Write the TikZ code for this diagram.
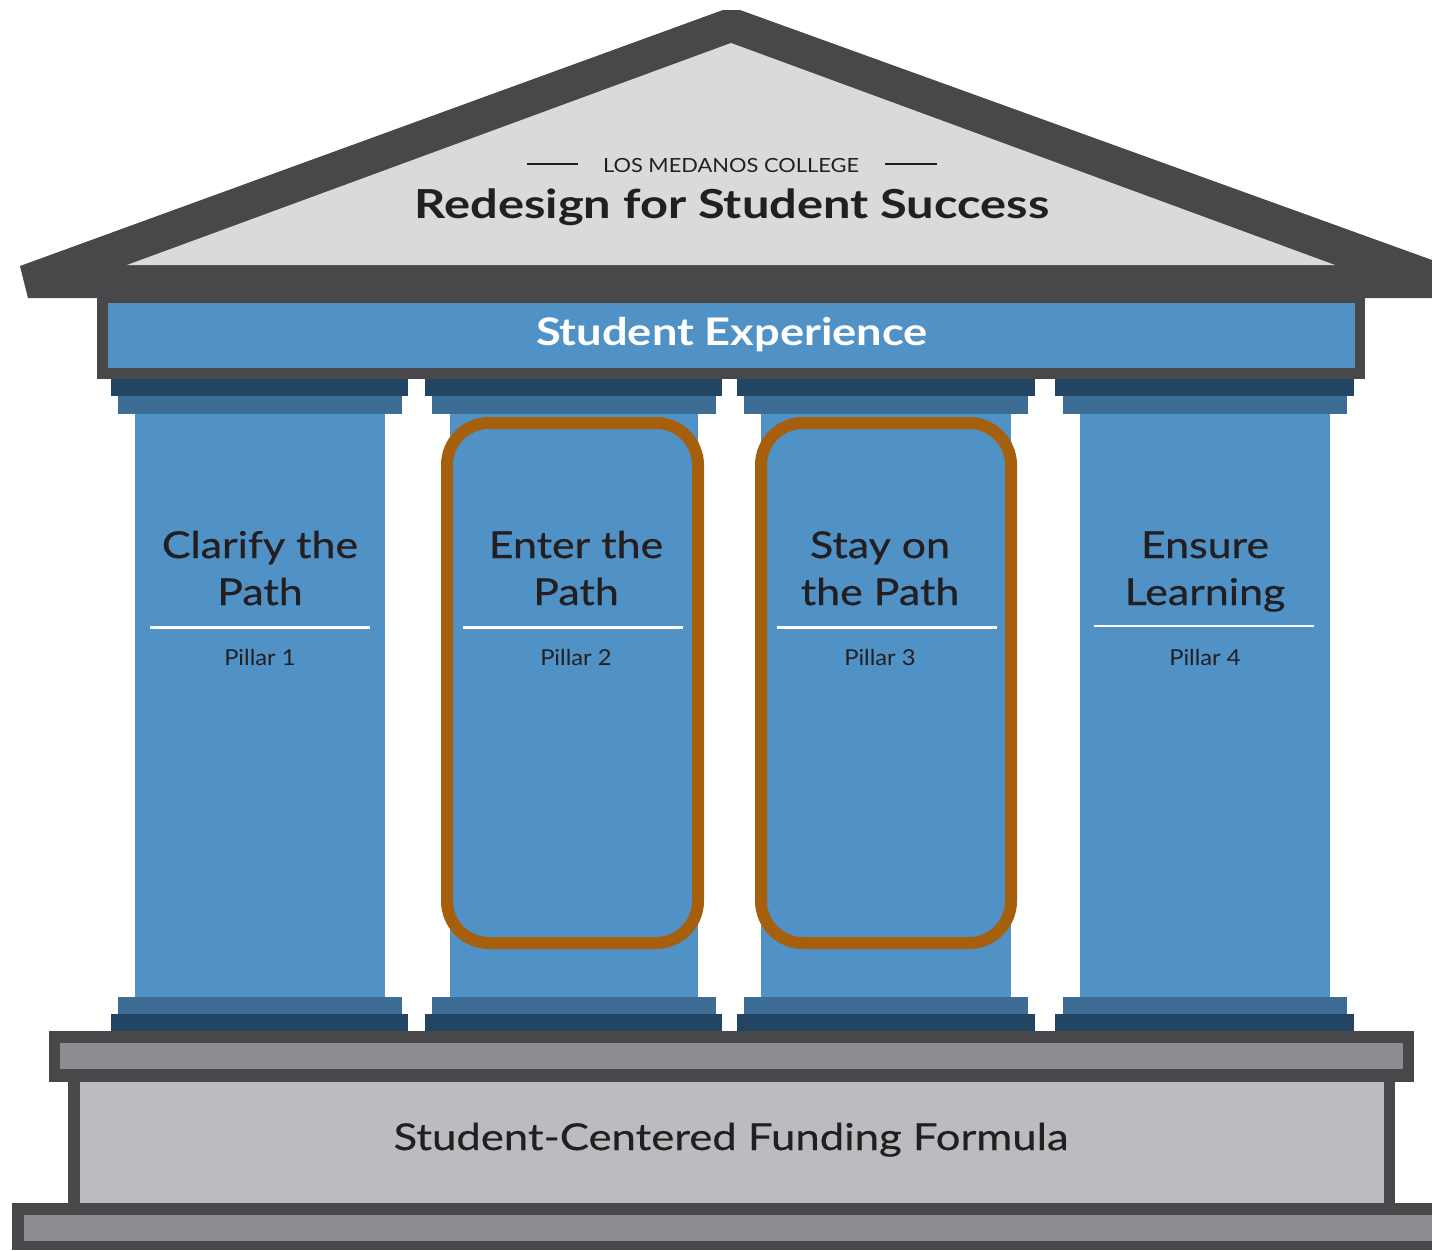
\documentclass[tikz,border=0pt]{standalone}
\usepackage{fontspec}
\setmainfont{Lato}
\newfontfamily\wideA[FakeStretch=1.19]{Lato}
\newfontfamily\wideT[FakeStretch=1.22]{Lato}
\newfontfamily\wideM[FakeStretch=1.16,FakeBold=0.6]{Lato}
\newfontfamily\wideF[FakeStretch=1.18,FakeBold=0.4]{Lato}
\newfontfamily\wideB[FakeStretch=1.12]{Lato}
\newfontfamily\wideC[FakeStretch=1.08]{Lato}
\definecolor{roofdark}{HTML}{48484A}
\definecolor{roofgray}{HTML}{D9DADC}
\definecolor{pblue}{HTML}{5092C6}
\definecolor{navy}{HTML}{214562}
\definecolor{midblue}{HTML}{3D6D94}
\definecolor{ring}{HTML}{A65F0D}
\definecolor{plgray}{HTML}{8C8D91}
\definecolor{ltgray}{HTML}{BBBCC0}
\definecolor{textdark}{HTML}{231F20}
\tikzset{
  lbl/.style={text=textdark, inner sep=0pt, anchor=base},
  title/.style={lbl, font=\wideT\fontsize{40}{48}\selectfont\bfseries},
  pilltitle/.style={lbl, font=\wideM\fontsize{37}{44}\selectfont},
  pillnum/.style={lbl, font=\wideC\fontsize{22}{26}\selectfont},
  whiterule/.style={white, line width=3pt},
  ringbox/.style={draw=ring, line width=12pt, rounded corners=42pt},
}
\begin{document}
\begin{tikzpicture}[x=1pt,y=-1pt]
\useasboundingbox (0,0) rectangle (1432,1250);
% roof
\fill[roofdark] (20,266) -- (723,10) -- (740,10) -- (1432,260) -- (1432,298) -- (28,298) -- cycle;
\fill[roofgray] (127,265) -- (731,43) -- (1335,265) -- cycle;
% entablature
\fill[roofdark] (97,298) rectangle (1365,379);
\fill[pblue] (108,303) rectangle (1355,368);
% pillars
\foreach \a/\b/\c/\d/\e/\f in {111/408/118/402/135/385, 425/722/432/716/450/698, 737/1035/744/1028/761/1011, 1055/1354/1063/1347/1080/1330}{
  \fill[navy] (\a,379) rectangle (\b,396);
  \fill[midblue] (\c,396) rectangle (\d,414);
  \fill[pblue] (\e,414) rectangle (\f,997);
  \fill[midblue] (\c,997) rectangle (\d,1014);
  \fill[navy] (\a,1014) rectangle (\b,1032);
}
% base
\fill[roofdark] (49,1031) rectangle (1414,1082);
\fill[plgray] (60,1043) rectangle (1403,1069);
\fill[roofdark] (68,1069) rectangle (1395,1215);
\fill[ltgray] (80,1082) rectangle (1384,1203);
\fill[roofdark] (12,1203) rectangle (1432,1250);
\fill[plgray] (24,1215) rectangle (1432,1241);
% highlight rings
\draw[ringbox] (447,423) rectangle (698,943);
\draw[ringbox] (761,423) rectangle (1011,943);
% roof texts
\node[lbl, font=\wideB\fontsize{19.5}{23}\selectfont] (college) at (731,172) {LOS MEDANOS COLLEGE};
\coordinate (ll1) at (527,164); \coordinate (ll2) at (578,164);
\coordinate (rl1) at (885,164); \coordinate (rl2) at (937,164);
\draw[textdark, line width=2pt] (ll1) -- (ll2);
\draw[textdark, line width=2pt] (rl1) -- (rl2);
\node[title] (redesign) at (732,218) {Redesign for Student Success};
\node[lbl, text=white, font=\wideA\fontsize{38}{46}\selectfont\bfseries] (exp) at (732,345) {Student Experience};
% pillar texts
\node[pilltitle] (p1a) at (260,558) {Clarify the};
\node[pilltitle] (p1b) at (260,605) {Path};
\node[pilltitle] (p2a) at (576,558) {Enter the};
\node[pilltitle] (p2b) at (576,605) {Path};
\node[pilltitle] (p3a) at (880,558) {Stay on};
\node[pilltitle] (p3b) at (880,605) {the Path};
\node[pilltitle] (p4a) at (1205,558) {Ensure};
\node[pilltitle] (p4b) at (1205,605) {Learning};
\coordinate (r1a) at (150,627); \coordinate (r1b) at (370,627);
\coordinate (r2a) at (463,627); \coordinate (r2b) at (683,627);
\coordinate (r3a) at (777,627); \coordinate (r3b) at (997,627);
\coordinate (r4a) at (1094,626); \coordinate (r4b) at (1314,626);
\draw[whiterule] (r1a) -- (r1b);
\draw[whiterule] (r2a) -- (r2b);
\draw[whiterule] (r3a) -- (r3b);
\draw[whiterule, line width=2pt] (r4a) -- (r4b);
\node[pillnum] (n1) at (260,665) {Pillar 1};
\node[pillnum] (n2) at (576,665) {Pillar 2};
\node[pillnum] (n3) at (880,665) {Pillar 3};
\node[pillnum] (n4) at (1205,665) {Pillar 4};
% foundation text
\node[lbl, font=\wideF\fontsize{37}{44}\selectfont] (fund) at (731,1150) {Student-Centered Funding Formula};
\end{tikzpicture}
\end{document}
